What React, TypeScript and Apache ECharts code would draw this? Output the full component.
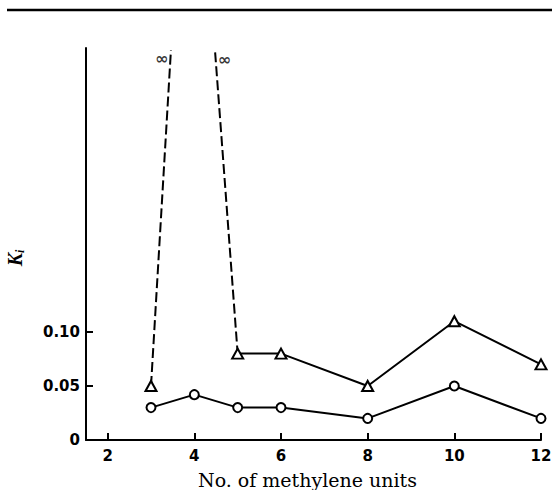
import React, { useEffect, useRef } from "react";
import * as echarts from "echarts";

const xTicks = [2, 4, 6, 8, 10, 12];
const yTicks = [0, 0.05, 0.1];
const circleN = [3, 4, 5, 6, 8, 10, 12];
const circleKi = [0.03, 0.042, 0.03, 0.03, 0.02, 0.05, 0.02];
const triangleN = [3, 5, 6, 8, 10, 12];
const triangleKi = [0.05, 0.08, 0.08, 0.05, 0.11, 0.07];
const dashLeft = [[3, 0.05], [3.46, 0.361]];
const dashRight = [[4.48, 0.359], [5, 0.08]];

export default function App() {
  const ref = useRef<HTMLDivElement>(null);
  useEffect(() => {
    if (!ref.current) return;
    const chart = echarts.init(ref.current, null, { renderer: "svg" });
    const tickFont = { fontFamily: "DejaVu Sans", fontWeight: "bold", fontSize: 15, color: "#000" };
    const circles = circleN.map((n, i) => [n, circleKi[i]]);
    const triangles = triangleN.map((n, i) => [n, triangleKi[i]]);
    const solidTri = triangles.slice(1);
    const infLabel = (pos: string, offset: number[]) => ({
      show: true,
      formatter: "\u221e",
      position: pos,
      distance: 2,
      offset,
      fontFamily: "DejaVu Sans",
      fontWeight: "bold",
      fontSize: 16,
      color: "#000",
    });
    chart.setOption({
      animation: false,
      backgroundColor: "#fff",
      grid: { left: 86, right: 11, top: 48, bottom: 50, outerBoundsMode: "none", containLabel: false },
      xAxis: {
        type: "value",
        min: 1.5,
        max: 12,
        name: "No. of methylene units",
        nameLocation: "middle",
        nameGap: 30,
        nameTextStyle: { fontFamily: "DejaVu Serif", fontSize: 19, color: "#000", padding: [0, 12, 0, 0] },
        axisLine: { show: true, onZero: false, lineStyle: { color: "#000", width: 2 } },
        axisTick: { show: true, inside: true, length: 7, customValues: xTicks, lineStyle: { color: "#000", width: 2 } },
        axisLabel: { ...tickFont, margin: 8, customValues: xTicks },
        splitLine: { show: false },
      },
      yAxis: {
        type: "value",
        min: 0,
        max: 0.363,
        axisLine: { show: true, onZero: false, lineStyle: { color: "#000", width: 2 } },
        axisTick: { show: true, inside: true, length: 7, customValues: [0.05, 0.1], lineStyle: { color: "#000", width: 2 } },
        axisLabel: {
          ...tickFont,
          margin: 6,
          customValues: yTicks,
          formatter: (v: number) => (v === 0 ? "0" : v.toFixed(2)),
        },
        splitLine: { show: false },
      },
      graphic: [
        { type: "line", shape: { x1: 7, y1: 10, x2: 552, y2: 10 }, style: { stroke: "#000", lineWidth: 2.5 } },
        {
          type: "text",
          x: 15,
          y: 258,
          rotation: Math.PI / 2,
          style: {
            text: "{k|K}{s|i}",
            align: "center",
            verticalAlign: "middle",
            rich: {
              k: { fontFamily: "Liberation Serif", fontStyle: "italic", fontWeight: "bold", fontSize: 20, fill: "#000" },
              s: { fontFamily: "Liberation Serif", fontStyle: "italic", fontWeight: "bold", fontSize: 12, fill: "#000", padding: [10, 0, 0, 0] },
            },
          },
        },
      ],
      series: [
        {
          type: "line",
          data: dashLeft,
          symbol: "none",
          lineStyle: { color: "#000", width: 2, type: [10, 4] },
          z: 2,
        },
        {
          type: "line",
          data: dashRight,
          symbol: "none",
          lineStyle: { color: "#000", width: 2, type: [10, 4] },
          z: 2,
        },
        {
          type: "scatter",
          data: [
            { value: dashLeft[1], label: infLabel("left", [0, 8]) },
            { value: dashRight[0], label: infLabel("right", [0, 7]) },
          ],
          symbolSize: 1,
          itemStyle: { color: "rgba(0,0,0,0)" },
          silent: true,
          z: 5,
        },
        {
          type: "line",
          data: solidTri,
          symbol: "none",
          lineStyle: { color: "#000", width: 2 },
          z: 2,
        },
        {
          type: "line",
          data: circles,
          symbol: "circle",
          symbolSize: 9,
          itemStyle: { color: "#fff", borderColor: "#000", borderWidth: 2 },
          lineStyle: { color: "#000", width: 2 },
          z: 3,
        },
        {
          type: "scatter",
          data: triangles,
          symbol: "triangle",
          symbolSize: [11, 10],
          itemStyle: { color: "#fff", borderColor: "#000", borderWidth: 2, opacity: 1 },
          z: 4,
        },
      ],
    });
    return () => chart.dispose();
  }, []);
  return <div ref={ref} style={{ width: 552, height: 490, position: "absolute", left: 0, top: 0 }} />;
}
